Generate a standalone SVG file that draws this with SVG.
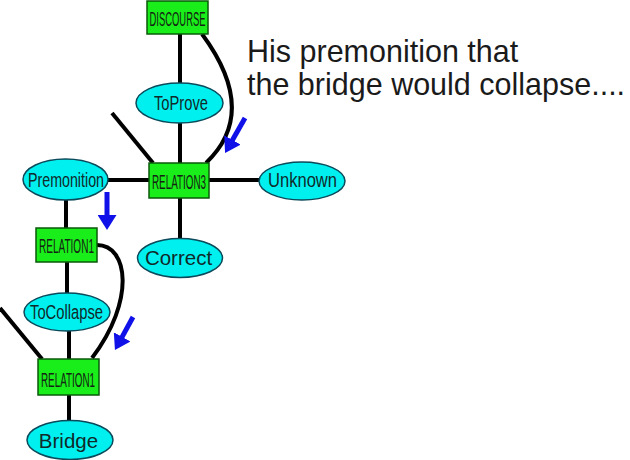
<svg xmlns="http://www.w3.org/2000/svg" width="630" height="460" viewBox="0 0 630 460">
<defs>
<style>
.edge{stroke:#000;stroke-width:4;fill:none}
.box{fill:#1aee1a;stroke:#0a5a0a;stroke-width:1.5}
.ell{fill:#00f0f0;stroke:#0a4a5a;stroke-width:1.5}
.bt{font-family:"Liberation Sans",Arial,sans-serif;font-size:21px;fill:#142414;text-anchor:middle}
.et{font-family:"Liberation Sans",Arial,sans-serif;font-size:19.5px;fill:#102a2a;text-anchor:middle}
.et2{font-family:"Liberation Sans",Arial,sans-serif;font-size:20.5px;fill:#102a2a;text-anchor:middle}
.cue{stroke:#1010e8;stroke-width:5;fill:none}
.cap{font-family:"Liberation Sans",Arial,sans-serif;font-size:30.5px;fill:#1a1a1a}
</style>
<marker id="ah" markerUnits="userSpaceOnUse" markerWidth="15" markerHeight="19" refX="2" refY="9.5" orient="auto">
<path d="M0,0 L15,9.5 L0,19 z" fill="#1010e8"/>
</marker>
</defs>
<g id="connectors">
<line class="edge" x1="180" y1="34" x2="180" y2="83"/>
<line class="edge" x1="180" y1="123" x2="180" y2="163"/>
<line class="edge" x1="112" y1="113" x2="153" y2="163"/>
<path class="edge" d="M202,34 C236,80 246,125 206,163"/>
<line class="edge" x1="108" y1="180" x2="149" y2="180"/>
<line class="edge" x1="209" y1="180" x2="259" y2="180"/>
<line class="edge" x1="180" y1="198" x2="180" y2="238"/>
<line class="edge" x1="66" y1="200" x2="66" y2="228"/>
<line class="edge" x1="67" y1="262" x2="67" y2="293"/>
<line class="edge" x1="69" y1="331" x2="69" y2="359"/>
<line class="edge" x1="69" y1="395" x2="69" y2="420"/>
<line class="edge" x1="0" y1="308" x2="42" y2="359"/>
<path class="edge" d="M97,245 C128,245 136,300 92,358"/>
</g>
<g id="cues">
<line class="cue" x1="107" y1="192" x2="107" y2="217" marker-end="url(#ah)"/>
<line class="cue" x1="245" y1="118" x2="231.5" y2="141.7" marker-end="url(#ah)"/>
<line class="cue" x1="133" y1="317" x2="121.2" y2="338.6" marker-end="url(#ah)"/>
</g>
<g id="discourse"><rect class="box" x="147" y="1" width="61" height="33"/><text class="bt" x="177.5" y="26" textLength="56" lengthAdjust="spacingAndGlyphs">DISCOURSE</text></g>
<g id="toprove"><ellipse class="ell" cx="179.5" cy="103" rx="43.5" ry="20"/><text class="et" x="181" y="110" textLength="54" lengthAdjust="spacingAndGlyphs">ToProve</text></g>
<g id="relation3"><rect class="box" x="149" y="163" width="60" height="35"/><text class="bt" x="179" y="189" textLength="54" lengthAdjust="spacingAndGlyphs">RELATION3</text></g>
<g id="premonition"><ellipse class="ell" cx="65.5" cy="179.5" rx="42.5" ry="20.5"/><text class="et" x="66" y="187" textLength="76" lengthAdjust="spacingAndGlyphs">Premonition</text></g>
<g id="unknown"><ellipse class="ell" cx="302" cy="181" rx="43" ry="19"/><text class="et" x="302.5" y="187" textLength="69" lengthAdjust="spacingAndGlyphs">Unknown</text></g>
<g id="correct"><ellipse class="ell" cx="180" cy="258" rx="42.5" ry="19.5"/><text class="et2" x="178.5" y="265">Correct</text></g>
<g id="relation1a"><rect class="box" x="36" y="228" width="61" height="34"/><text class="bt" x="66.5" y="253" textLength="55" lengthAdjust="spacingAndGlyphs">RELATION1</text></g>
<g id="tocollapse"><ellipse class="ell" cx="67" cy="312" rx="43" ry="19"/><text class="et" x="66.5" y="319" textLength="73" lengthAdjust="spacingAndGlyphs">ToCollapse</text></g>
<g id="relation1b"><rect class="box" x="38" y="359" width="61" height="36"/><text class="bt" x="68" y="387" textLength="54" lengthAdjust="spacingAndGlyphs">RELATION1</text></g>
<g id="bridge"><ellipse class="ell" cx="70" cy="440" rx="43" ry="19.5"/><text class="et2" x="68.5" y="448">Bridge</text></g>
<g id="caption">
<text class="cap" x="247" y="62">His premonition that</text>
<text class="cap" x="247" y="95">the bridge would collapse....</text>
</g>
</svg>
